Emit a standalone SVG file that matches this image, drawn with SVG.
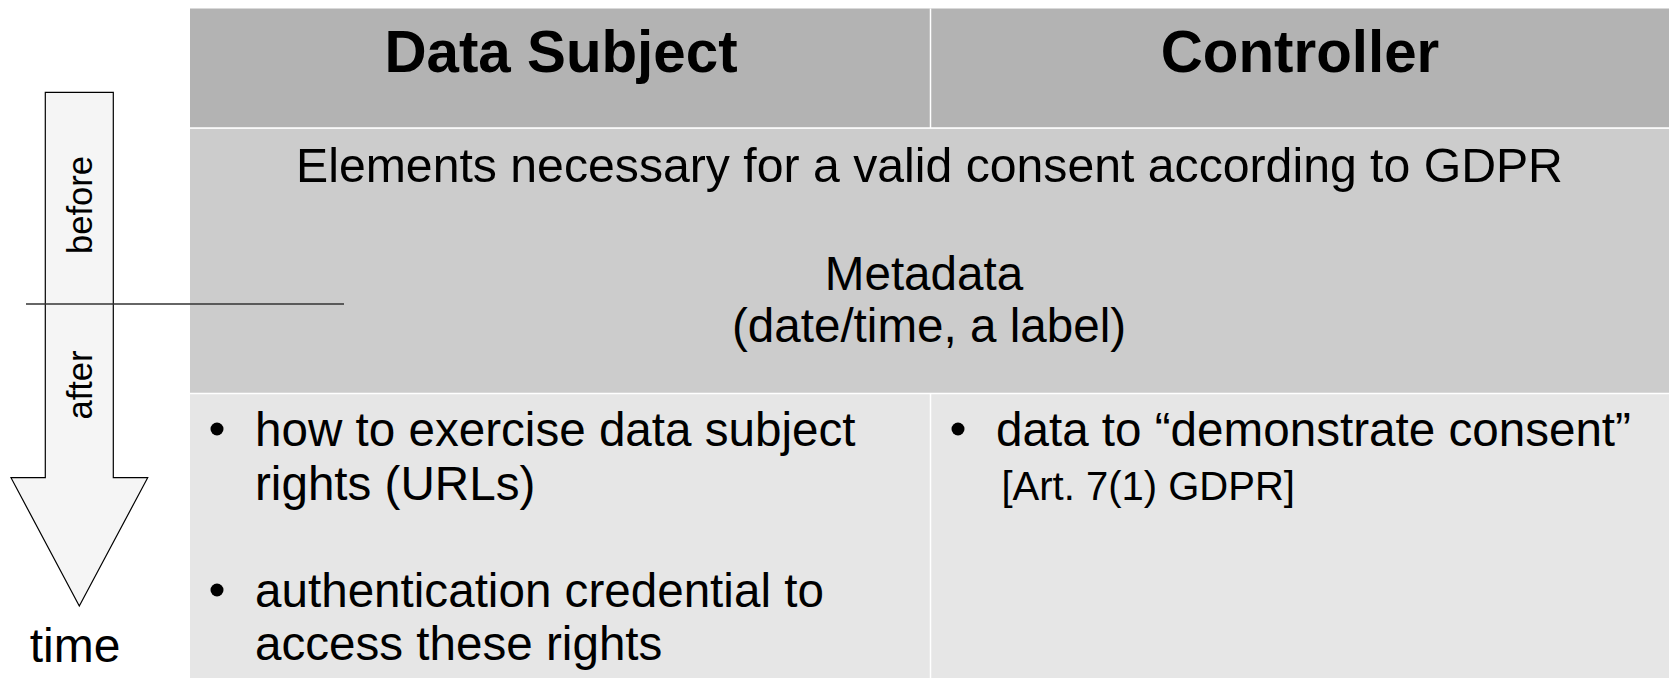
<svg xmlns="http://www.w3.org/2000/svg" width="1669" height="678" viewBox="0 0 1669 678">
<style>
.t{font-family:"Liberation Sans",Arial,sans-serif;fill:#000}
.hd{font-size:58.3px;font-weight:bold}
.body{font-size:47.6px}
.big{font-size:48.2px}
.small{font-size:40px}
.lab{font-size:34.6px}
.sep{stroke:#ffffff;stroke-width:1.5}
</style>
<rect width="1669" height="678" fill="#ffffff"/>
<g id="table">
  <rect x="190" y="8.5" width="1479" height="119.5" fill="#b3b3b3"/>
  <rect x="190" y="128.5" width="1479" height="265" fill="#cccccc"/>
  <rect x="190" y="393.5" width="1479" height="284.5" fill="#e6e6e6"/>
  <line class="sep" x1="190" y1="128" x2="1669" y2="128"/>
  <line class="sep" x1="190" y1="393.5" x2="1669" y2="393.5"/>
  <line class="sep" x1="930.5" y1="8.5" x2="930.5" y2="128"/>
  <line class="sep" x1="930.5" y1="393.5" x2="930.5" y2="678"/>
</g>
<g id="header-data-subject">
  <text class="t hd" x="561" y="71.5" text-anchor="middle">Data Subject</text>
</g>
<g id="header-controller">
  <text class="t hd" x="1300" y="71.5" text-anchor="middle">Controller</text>
</g>
<g id="elements">
  <text class="t big" x="929.5" y="182" text-anchor="middle">Elements necessary for a valid consent according to GDPR</text>
  <text class="t body" x="924" y="290" text-anchor="middle">Metadata</text>
  <text class="t body" x="929" y="341.5" text-anchor="middle">(date/time, a label)</text>
</g>
<g id="data-subject-items">
  <circle cx="217" cy="429" r="6.5" fill="#000"/>
  <text class="t body" x="255" y="446">how to exercise data subject</text>
  <text class="t body" x="255" y="500">rights (URLs)</text>
  <circle cx="217" cy="590" r="6.5" fill="#000"/>
  <text class="t body" x="255" y="607">authentication credential to</text>
  <text class="t body" x="255" y="660">access these rights</text>
</g>
<g id="controller-items">
  <circle cx="958" cy="429" r="6.5" fill="#000"/>
  <text class="t body" x="996" y="446">data to “demonstrate consent”</text>
  <text class="t small" x="1001.5" y="500">[Art. 7(1) GDPR]</text>
</g>
<g id="time-arrow">
  <polygon points="45.3,92.3 113.3,92.3 113.3,477.7 147.7,477.7 79.3,606 11,477.7 45.3,477.7" fill="#f5f5f5" stroke="#000" stroke-width="1.2"/>
  <text class="t lab" transform="translate(92,205) rotate(-90)" text-anchor="middle">before</text>
  <text class="t lab" transform="translate(91.5,385) rotate(-90)" text-anchor="middle">after</text>
  <text class="t" font-size="48" x="75" y="661.5" text-anchor="middle">time</text>
</g>
<g id="connectors">
  <line x1="26" y1="304" x2="344" y2="304" stroke="#333333" stroke-width="1.3"/>
</g>
</svg>
